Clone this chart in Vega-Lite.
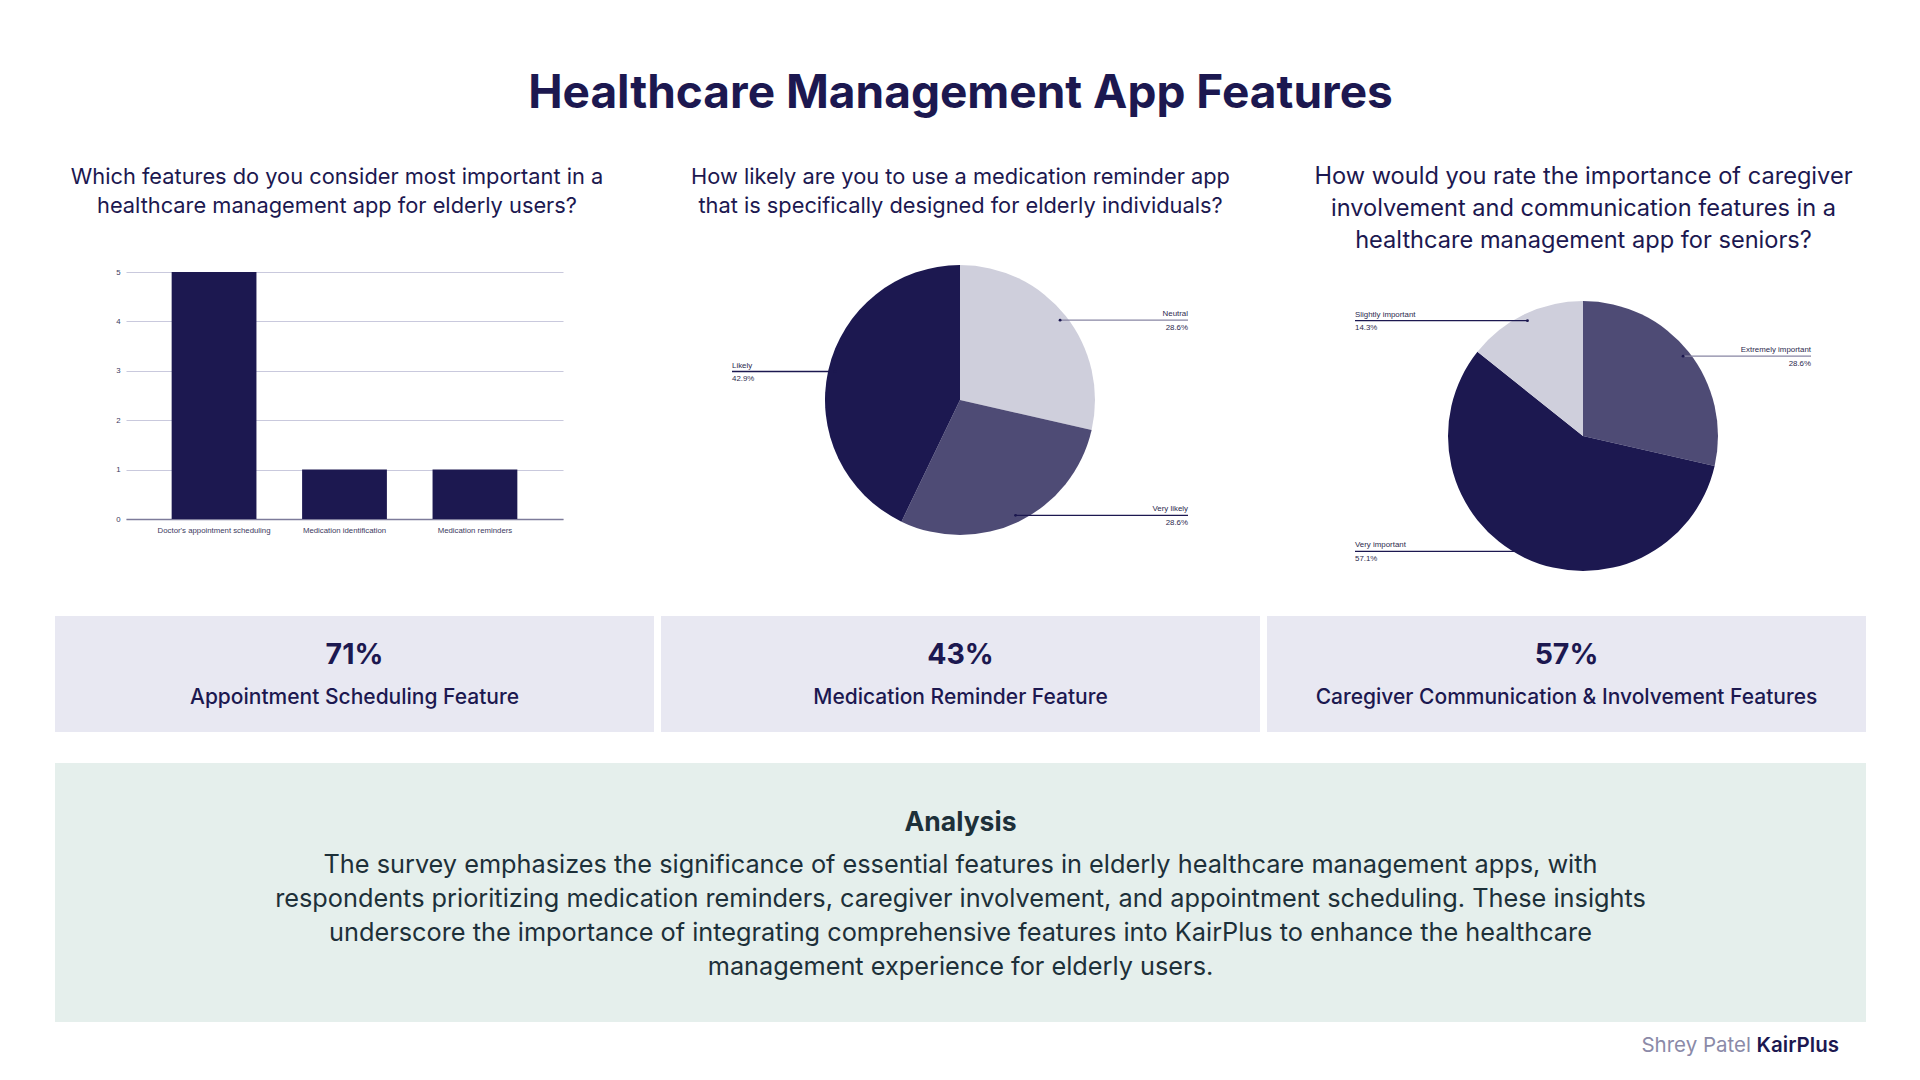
{
  "$schema": "https://vega.github.io/schema/vega-lite/v6.json",
  "background": "#ffffff",
  "padding": {"top": 71, "left": 55, "right": 54, "bottom": 10},
  "config": {
    "view": {"stroke": null},
    "font": "Inter",
    "axis": {"labelFont": "Liberation Sans, sans-serif"}
  },
  "title": {
    "text": "Healthcare Management App Features",
    "font": "Inter",
    "fontSize": 46,
    "fontWeight": 700,
    "color": "#1c1850",
    "anchor": "middle",
    "frame": "bounds",
    "offset": 47
  },
  "datasets": {
    "features": [
      {"feature": "Doctor's appointment scheduling", "count": 5},
      {"feature": "Medication identification", "count": 1},
      {"feature": "Medication reminders", "count": 1}
    ],
    "likelihood": [
      {"response": "Neutral", "count": 2},
      {"response": "Very likely", "count": 2},
      {"response": "Likely", "count": 3}
    ],
    "caregiver": [
      {"response": "Extremely important", "count": 2},
      {"response": "Very important", "count": 4},
      {"response": "Slightly important", "count": 1}
    ],
    "stats": [
      {"stat": "Appointment Scheduling Feature", "share": 0.71},
      {"stat": "Medication Reminder Feature", "share": 0.43},
      {"stat": "Caregiver Communication & Involvement Features", "share": 0.57}
    ],
    "analysis": [
      {
        "heading": "Analysis",
        "body": [
          "The survey emphasizes the significance of essential features in elderly healthcare management apps, with",
          "respondents prioritizing medication reminders, caregiver involvement, and appointment scheduling. These insights",
          "underscore the importance of integrating comprehensive features into KairPlus to enhance the healthcare",
          "management experience for elderly users."
        ],
        "author": "Shrey Patel",
        "brand": "KairPlus"
      }
    ]
  },
  "spacing": 31,
  "vconcat": [
    {
      "spacing": 7,
      "bounds": "flush",
      "resolve": {"scale": {"color": "independent", "stroke": "independent"}},
      "hconcat": [
        {
          "width": 599,
          "height": 330,
          "title": {
            "text": ["Which features do you consider most important in a", "healthcare management app for elderly users?"],
            "font": "Inter", "fontSize": 21.8, "fontWeight": 400, "color": "#1c1850",
            "lineHeight": 29, "anchor": "middle", "frame": "group", "dx": -17.5, "offset": 37
          },
          "data": {"name": "features"},
          "mark": {"type": "bar", "color": "#1c1850"},
          "encoding": {
            "x": {
              "field": "feature", "type": "nominal", "sort": null,
              "scale": {"range": [71, 508], "paddingInner": 0.35, "paddingOuter": 0.35},
              "axis": {
                "title": null, "labelAngle": 0, "labelFontSize": 7.8, "labelColor": "#3c3a5e",
                "ticks": false, "domainColor": "#7d7b9a", "domainWidth": 1.5,
                "offset": -66, "labelPadding": 7
              }
            },
            "y": {
              "field": "count", "type": "quantitative",
              "scale": {"domain": [0, 5], "range": [264, 17], "nice": false},
              "axis": {
                "title": null, "values": [0, 1, 2, 3, 4, 5], "format": "d",
                "domain": false, "ticks": false, "gridColor": "#c9c9dd", "gridWidth": 1,
                "labelFontSize": 7.8, "labelColor": "#3c3a5e", "offset": -71, "labelPadding": 6
              }
            }
          }
        },
        {
          "width": 599,
          "height": 330,
          "title": {
            "text": ["How likely are you to use a medication reminder app", "that is specifically designed for elderly individuals?"],
            "font": "Inter", "fontSize": 21.8, "fontWeight": 400, "color": "#1c1850",
            "lineHeight": 29, "anchor": "middle", "frame": "group", "offset": 37
          },
          "data": {"name": "likelihood"},
          "transform": [
            {"joinaggregate": [{"op": "sum", "field": "count", "as": "total"}]},
            {"window": [{"op": "sum", "field": "count", "as": "cum"}, {"op": "row_number", "as": "i"}], "frame": [null, 0]},
            {"calculate": "2*PI*(datum.cum - datum.count/2)/datum.total", "as": "mid"},
            {"calculate": "128*sin(datum.mid)", "as": "px"},
            {"calculate": "128*cos(datum.mid)", "as": "py"},
            {"calculate": "datum.px >= 0 ? 228 : -228", "as": "ex"},
            {"calculate": "[datum.response, format(datum.count/datum.total, '.1%')]", "as": "lbl"}
          ],
          "layer": [
            {
              "mark": {"type": "arc", "outerRadius": 135},
              "encoding": {
                "theta": {"field": "count", "type": "quantitative", "stack": true},
                "order": {"field": "i", "type": "quantitative"},
                "color": {"field": "response", "type": "nominal", "legend": null,
                  "scale": {"domain": ["Neutral", "Very likely", "Likely"], "range": ["#cfcfdc", "#4e4b75", "#1c1850"]}},
                "x": {"datum": 0, "type": "quantitative", "scale": {"domain": [-299, 300], "nice": false, "zero": false}, "axis": null},
                "y": {"datum": 0, "type": "quantitative", "scale": {"domain": [-185, 145], "nice": false, "zero": false}, "axis": null}
              }
            },
            {
              "mark": {"type": "rule", "strokeWidth": 1.3},
              "encoding": {
                "x": {"field": "px", "type": "quantitative"},
                "x2": {"field": "ex"},
                "y": {"field": "py", "type": "quantitative"},
                "stroke": {"field": "response", "type": "nominal", "legend": null,
                  "scale": {"domain": ["Neutral", "Very likely", "Likely"], "range": ["#8886a3", "#1c1850", "#1c1850"]}}
              }
            },
            {
              "mark": {"type": "point", "filled": true, "size": 8, "opacity": 1, "color": "#1c1850"},
              "encoding": {
                "x": {"field": "px", "type": "quantitative"},
                "y": {"field": "py", "type": "quantitative"}
              }
            },
            {
              "transform": [{"filter": "datum.px >= 0"}],
              "mark": {"type": "text", "align": "right", "baseline": "middle", "font": "Liberation Sans, sans-serif", "fontSize": 7.9, "lineHeight": 13.5, "color": "#2c2a4e", "dy": -6},
              "encoding": {
                "x": {"field": "ex", "type": "quantitative"},
                "y": {"field": "py", "type": "quantitative"},
                "text": {"field": "lbl", "type": "nominal"}
              }
            },
            {
              "transform": [{"filter": "datum.px < 0"}],
              "mark": {"type": "text", "align": "left", "baseline": "middle", "font": "Liberation Sans, sans-serif", "fontSize": 7.9, "lineHeight": 13.5, "color": "#2c2a4e", "dy": -6},
              "encoding": {
                "x": {"field": "ex", "type": "quantitative"},
                "y": {"field": "py", "type": "quantitative"},
                "text": {"field": "lbl", "type": "nominal"}
              }
            }
          ]
        },
        {
          "width": 599,
          "height": 330,
          "title": {
            "text": ["How would you rate the importance of caregiver", "involvement and communication features in a", "healthcare management app for seniors?"],
            "font": "Inter", "fontSize": 23.6, "fontWeight": 400, "color": "#1c1850",
            "lineHeight": 32, "anchor": "middle", "frame": "group", "dx": 17, "offset": 2
          },
          "data": {"name": "caregiver"},
          "transform": [
            {"joinaggregate": [{"op": "sum", "field": "count", "as": "total"}]},
            {"window": [{"op": "sum", "field": "count", "as": "cum"}, {"op": "row_number", "as": "i"}], "frame": [null, 0]},
            {"calculate": "2*PI*(datum.cum - datum.count/2)/datum.total", "as": "mid"},
            {"calculate": "128*sin(datum.mid)", "as": "px"},
            {"calculate": "128*cos(datum.mid)", "as": "py"},
            {"calculate": "datum.px >= 0 ? 228 : -228", "as": "ex"},
            {"calculate": "[datum.response, format(datum.count/datum.total, '.1%')]", "as": "lbl"}
          ],
          "layer": [
            {
              "mark": {"type": "arc", "outerRadius": 135},
              "encoding": {
                "theta": {"field": "count", "type": "quantitative", "stack": true},
                "order": {"field": "i", "type": "quantitative"},
                "color": {"field": "response", "type": "nominal", "legend": null,
                  "scale": {"domain": ["Extremely important", "Very important", "Slightly important"], "range": ["#4e4b75", "#1c1850", "#cfcfdc"]}},
                "x": {"datum": 0, "type": "quantitative", "scale": {"domain": [-316, 283], "nice": false, "zero": false}, "axis": null},
                "y": {"datum": 0, "type": "quantitative", "scale": {"domain": [-149, 181], "nice": false, "zero": false}, "axis": null}
              }
            },
            {
              "mark": {"type": "rule", "strokeWidth": 1.3},
              "encoding": {
                "x": {"field": "px", "type": "quantitative"},
                "x2": {"field": "ex"},
                "y": {"field": "py", "type": "quantitative"},
                "stroke": {"field": "response", "type": "nominal", "legend": null,
                  "scale": {"domain": ["Extremely important", "Very important", "Slightly important"], "range": ["#8886a3", "#1c1850", "#1c1850"]}}
              }
            },
            {
              "mark": {"type": "point", "filled": true, "size": 8, "opacity": 1, "color": "#1c1850"},
              "encoding": {
                "x": {"field": "px", "type": "quantitative"},
                "y": {"field": "py", "type": "quantitative"}
              }
            },
            {
              "transform": [{"filter": "datum.px >= 0"}],
              "mark": {"type": "text", "align": "right", "baseline": "middle", "font": "Liberation Sans, sans-serif", "fontSize": 7.9, "lineHeight": 13.5, "color": "#2c2a4e", "dy": -6},
              "encoding": {
                "x": {"field": "ex", "type": "quantitative"},
                "y": {"field": "py", "type": "quantitative"},
                "text": {"field": "lbl", "type": "nominal"}
              }
            },
            {
              "transform": [{"filter": "datum.px < 0"}],
              "mark": {"type": "text", "align": "left", "baseline": "middle", "font": "Liberation Sans, sans-serif", "fontSize": 7.9, "lineHeight": 13.5, "color": "#2c2a4e", "dy": -6},
              "encoding": {
                "x": {"field": "ex", "type": "quantitative"},
                "y": {"field": "py", "type": "quantitative"},
                "text": {"field": "lbl", "type": "nominal"}
              }
            }
          ]
        }
      ]
    },
    {
      "spacing": 7,
      "bounds": "flush",
      "hconcat": [
        {
          "width": 599, "height": 116,
          "view": {"fill": "#e8e8f2", "stroke": null},
          "data": {"name": "stats"},
          "transform": [{"filter": {"field": "stat", "equal": "Appointment Scheduling Feature"}}],
          "layer": [
            {"mark": {"type": "text", "font": "Inter", "fontSize": 28.5, "fontWeight": 700, "color": "#1c1850", "dy": -19},
             "encoding": {"text": {"field": "share", "type": "quantitative", "format": ".0%"}}},
            {"mark": {"type": "text", "font": "Inter", "fontSize": 21, "fontWeight": 500, "color": "#1c1850", "dy": 24},
             "encoding": {"text": {"field": "stat", "type": "nominal"}}}
          ]
        },
        {
          "width": 599, "height": 116,
          "view": {"fill": "#e8e8f2", "stroke": null},
          "data": {"name": "stats"},
          "transform": [{"filter": {"field": "stat", "equal": "Medication Reminder Feature"}}],
          "layer": [
            {"mark": {"type": "text", "font": "Inter", "fontSize": 28.5, "fontWeight": 700, "color": "#1c1850", "dy": -19},
             "encoding": {"text": {"field": "share", "type": "quantitative", "format": ".0%"}}},
            {"mark": {"type": "text", "font": "Inter", "fontSize": 21, "fontWeight": 500, "color": "#1c1850", "dy": 24},
             "encoding": {"text": {"field": "stat", "type": "nominal"}}}
          ]
        },
        {
          "width": 599, "height": 116,
          "view": {"fill": "#e8e8f2", "stroke": null},
          "data": {"name": "stats"},
          "transform": [{"filter": {"field": "stat", "equal": "Caregiver Communication & Involvement Features"}}],
          "layer": [
            {"mark": {"type": "text", "font": "Inter", "fontSize": 28.5, "fontWeight": 700, "color": "#1c1850", "dy": -19},
             "encoding": {"text": {"field": "share", "type": "quantitative", "format": ".0%"}}},
            {"mark": {"type": "text", "font": "Inter", "fontSize": 21, "fontWeight": 500, "color": "#1c1850", "dy": 24},
             "encoding": {"text": {"field": "stat", "type": "nominal"}}}
          ]
        }
      ]
    },
    {
      "width": 1811, "height": 259,
      "view": {"fill": "#e5efec", "stroke": null},
      "data": {"name": "analysis"},
      "layer": [
        {"mark": {"type": "text", "font": "Inter", "fontSize": 26.5, "fontWeight": 700, "color": "#1d3039", "dy": -69.5},
         "encoding": {"text": {"field": "heading", "type": "nominal"}}},
        {"mark": {"type": "text", "font": "Inter", "fontSize": 25.3, "fontWeight": 400, "color": "#1d3039", "lineHeight": 34.3, "baseline": "middle", "dy": -28},
         "encoding": {"text": {"field": "body", "type": "nominal"}}},
        {"mark": {"type": "text", "font": "Inter", "fontSize": 20.5, "fontWeight": 400, "color": "#8b8aa8", "align": "right", "dx": 790.5, "dy": 153.5},
         "encoding": {"text": {"field": "author", "type": "nominal"}}},
        {"mark": {"type": "text", "font": "Inter", "fontSize": 20.5, "fontWeight": 600, "color": "#1c1850", "align": "right", "dx": 878.5, "dy": 153.5},
         "encoding": {"text": {"field": "brand", "type": "nominal"}}}
      ]
    }
  ]
}
